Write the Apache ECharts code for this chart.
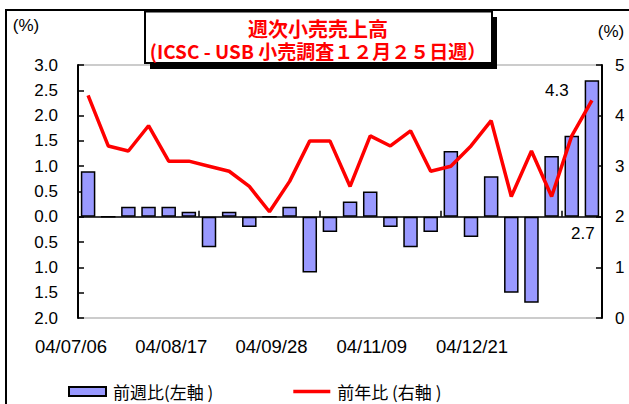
<!DOCTYPE html>
<html>
<head>
<meta charset="utf-8">
<script src="https://cdn.jsdelivr.net/npm/echarts@6/dist/echarts.min.js"></script>
<style>
html,body{margin:0;padding:0;background:#fff;}
#c{width:629px;height:404px;}
</style>
</head>
<body>
<div id="c"></div>
<script>
// ---- data ----
var weeks = ['04/07/06','04/07/13','04/07/20','04/07/27','04/08/03','04/08/10','04/08/17','04/08/24','04/08/31','04/09/07','04/09/14','04/09/21','04/09/28','04/10/05','04/10/12','04/10/19','04/10/26','04/11/02','04/11/09','04/11/16','04/11/23','04/11/30','04/12/07','04/12/14','04/12/21','04/12/28'];
var weekOnWeek = [0.9, 0, 0.2, 0.2, 0.2, 0.1, -0.6, 0.1, -0.2, 0, 0.2, -1.1, -0.3, 0.3, 0.5, -0.2, -0.6, -0.3, 1.3, -0.4, 0.8, -1.5, -1.7, 1.2, 1.6, 2.7];
var yearOnYear = [4.4, 3.4, 3.3, 3.8, 3.1, 3.1, 3.0, 2.9, 2.6, 2.1, 2.7, 3.5, 3.5, 2.6, 3.6, 3.4, 3.7, 2.9, 3.0, 3.4, 3.9, 2.4, 3.3, 2.4, 3.6, 4.3];
var dateTickLabels = ['04/07/06','04/08/17','04/09/28','04/11/09','04/12/21'];
var seriesNames = ['前週比(左軸 )', '前年比 (右軸 )'];
var titleLine1 = '週次小売売上高';
var titleLine2 = '(ICSC - USB 小売調査１２月２５日週）';

var NUM_FONT = '"Liberation Sans", Arial, sans-serif';
var CJK_FONT = '"Noto Sans CJK JP", "Liberation Sans", sans-serif';
var last = weeks.length - 1;

var barData = weekOnWeek.map(function (v, i) {
  if (i === last) {
    return { value: v, label: { show: true, position: 'bottom', offset: [-9, 3], formatter: '{c}',
      fontSize: 17, fontFamily: NUM_FONT, color: '#000' } };
  }
  return v;
});
var lineData = yearOnYear.map(function (v, i) {
  if (i === last) {
    return { value: v, label: { show: true, position: 'top', offset: [-35, 4], formatter: '{c}',
      fontSize: 17, fontFamily: NUM_FONT, color: '#000' } };
  }
  return v;
});

var chart = echarts.init(document.getElementById('c'), null, { renderer: 'svg' });
chart.setOption({
  animation: false,
  backgroundColor: '#fff',
  grid: [
    { left: 78, right: 27, top: 65, bottom: 86, show: true, borderColor: '#999', borderWidth: 1, backgroundColor: 'transparent' },
    { left: 71, width: 401, top: 65, bottom: 86, show: false }
  ],
  xAxis: [
    {
      type: 'category', gridIndex: 0, data: weeks, boundaryGap: true,
      axisLine: { onZero: true, lineStyle: { color: '#000', width: 1.5 } },
      axisTick: { show: true, inside: true, interval: 5, length: 6, lineStyle: { color: '#000', width: 1.5 } },
      axisLabel: { show: false },
      splitLine: { show: false }
    },
    {
      type: 'category', gridIndex: 1, data: dateTickLabels, boundaryGap: false, position: 'bottom',
      axisLine: { show: false }, axisTick: { show: false },
      axisLabel: { interval: 0, margin: 19, fontSize: 18.5, fontFamily: NUM_FONT, color: '#000' }
    }
  ],
  yAxis: [
    {
      type: 'value', gridIndex: 0, min: -2, max: 3, interval: 0.5, position: 'left',
      axisLine: { show: true, lineStyle: { color: '#000', width: 2 } },
      axisTick: { show: true, inside: true, length: 6, lineStyle: { color: '#000', width: 1.5 } },
      axisLabel: { margin: 20, fontSize: 17, fontFamily: NUM_FONT, color: '#000',
        formatter: function (v) { return Math.abs(v).toFixed(1); } },
      splitLine: { show: false }
    },
    {
      type: 'value', gridIndex: 0, min: 0, max: 5, interval: 1, position: 'right',
      axisLine: { show: true, lineStyle: { color: '#000', width: 2 } },
      axisTick: { show: true, inside: true, length: 6, lineStyle: { color: '#000', width: 1.5 } },
      axisLabel: { margin: 13, fontSize: 17, fontFamily: NUM_FONT, color: '#000' },
      splitLine: { show: false }
    },
    { type: 'value', gridIndex: 1, show: false }
  ],
  legend: {
    left: 63, top: 378, itemGap: 80, itemWidth: 37, itemHeight: 9,
    textStyle: { fontSize: 17, fontFamily: CJK_FONT, color: '#000', padding: [0, 0, 0, 2] },
    data: [
      { name: seriesNames[0], icon: 'rect' },
      { name: seriesNames[1], icon: 'path://M0,0 L40,0 L40,3.6 L0,3.6 Z', itemStyle: { color: '#FF0000', borderWidth: 0 } }
    ]
  },
  series: [
    {
      name: seriesNames[0], type: 'bar', xAxisIndex: 0, yAxisIndex: 0,
      data: barData, barWidth: '72%',
      itemStyle: { color: '#9999FF', borderColor: '#000', borderWidth: 1.5 },
      z: 2
    },
    {
      name: seriesNames[1], type: 'line', xAxisIndex: 0, yAxisIndex: 1,
      data: lineData, symbol: 'circle', symbolSize: 0.1, showSymbol: true, showAllSymbol: true,
      lineStyle: { color: '#FF0000', width: 3.5 },
      itemStyle: { color: '#FF0000' },
      z: 3
    }
  ],
  graphic: [
    { type: 'rect', z: -10, shape: { x: 6, y: 10, width: 700, height: 500 },
      style: { fill: 'none', stroke: '#000', lineWidth: 2 } },
    { type: 'rect', z: 10, shape: { x: 150, y: 17, width: 347, height: 52 }, style: { fill: '#000' } },
    { type: 'rect', z: 11, shape: { x: 145, y: 11.5, width: 347, height: 51.5 },
      style: { fill: '#fff', stroke: '#000', lineWidth: 2 } },
    { type: 'text', z: 12, style: {
      text: '{a|' + titleLine1 + '}\n{b|' + titleLine2 + '}',
      x: 318, y: 39.5, align: 'center', verticalAlign: 'middle',
      rich: {
        a: { font: 'bold 20px ' + CJK_FONT, fill: '#FF0000', lineHeight: 22, align: 'center' },
        b: { font: 'bold 19px ' + CJK_FONT, fill: '#FF0000', lineHeight: 22, align: 'center' }
      } } },
    { type: 'text', z: 12, style: { text: '(%)', x: 26, y: 25, align: 'center', verticalAlign: 'middle',
      font: '17px ' + NUM_FONT, fill: '#000' } },
    { type: 'text', z: 12, style: { text: '(%)', x: 611, y: 31, align: 'center', verticalAlign: 'middle',
      font: '17px ' + NUM_FONT, fill: '#000' } }
  ]
});
</script>
</body>
</html>
